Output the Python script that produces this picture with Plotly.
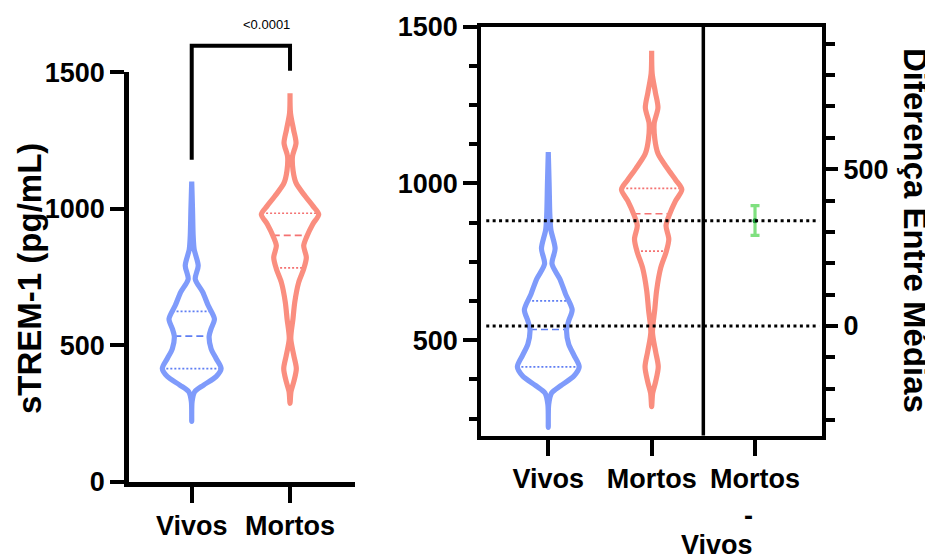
import numpy as np
import plotly.graph_objects as go

# ---------------- data ----------------
groups = ["Vivos", "Mortos"]
diff_label = "Mortos"
diff_label_rest = ["-", "Vivos"]

# violin outline profiles: value (pg/mL) and half-width (category units)
vivos_y = [222, 295, 331, 355, 386, 415, 452, 488, 534, 561, 597, 646, 695, 743, 792, 852, 900, 1000, 1100]
vivos_hw = [0, 0.004, 0.031, 0.121, 0.248, 0.299, 0.248, 0.197, 0.177, 0.197, 0.231, 0.168, 0.112, 0.036,
             0.066, 0.025, 0.015, 0.008, 0]
mortos_y = [288, 331, 367, 415, 464, 525, 597, 658, 731, 780, 822, 865, 901, 944, 980, 1010, 1047, 1095,
            1140, 1192, 1241, 1290, 1350, 1423]
mortos_hw = [0, 0.010, 0.038, 0.064, 0.038, 0.008, 0.030, 0.048, 0.088, 0.139, 0.166, 0.139, 0.173, 0.231,
             0.292, 0.234, 0.153, 0.061, 0.031, 0.025, 0.061, 0.036, 0.005, 0]

# quartiles (Q1, median, Q3)
vivos_q = [415, 534, 625]
mortos_q = [784, 903, 984]

# group means and difference of means (Mortos - Vivos) with 95% CI
means = [545, 881]
diff_mean = 336
diff_ci = [289, 384]

# significance bracket
p_text = "<0.0001"
bracket_top = 1597
bracket_left_end = 1180
bracket_right_end = 1506

left_ticks = [0, 500, 1000, 1500]
right_left_ticks = [500, 1000, 1500]
right_diff_ticks = [0, 500]

# ---------------- styling ----------------
W, H = 933, 559
OFF = 8  # the page body margin shifts the figure by this many pixels
BLUE = "#7f9bfb"
RED = "#fa8e7f"
BLUE_Q = "#5f7ef3"
RED_Q = "#f47272"
GREEN = "#7fe07f"
FONT = "Liberation Sans, Arial, sans-serif"


def px(xp):
    return (xp - OFF) / W


def py(yp):
    return 1 - (yp - OFF) / H


# left panel geometry
L_XDOM = [px(129), px(355.3)]
L_XR = [-0.638, 1.664]
L_YDOM = [py(482), py(72.3)]
L_YR = [0, 1500]
# right panel geometry
R_XDOM = [px(481.3), px(822)]
R_XR = [-0.648, 2.648]
R_YDOM = [py(435.5), py(26.5)]
R_YR = [196, 1500]
R_Y3R = [R_YR[0] - means[0], R_YR[1] - means[0]]


def to_paper(v, rng, dom):
    return dom[0] + (v - rng[0]) / (rng[1] - rng[0]) * (dom[1] - dom[0])


fig = go.Figure()


def add_violin(center, ys, hws, quarts, col, qcol, xa, ya):
    ys = np.asarray(ys, float)
    hws = np.asarray(hws, float)
    # quartile lines
    for i, q in enumerate(quarts):
        w = float(np.interp(q, ys, hws))
        fig.add_trace(go.Scatter(
            x=[center - w, center + w], y=[q, q], mode="lines",
            line=dict(color=qcol, width=1.7, dash="7px,4px" if i == 1 else "2px,2px"),
            xaxis=xa, yaxis=ya, showlegend=False, hoverinfo="skip"))
    xs = np.concatenate([center + hws, (center - hws)[::-1]])
    yy = np.concatenate([ys, ys[::-1]])
    fig.add_trace(go.Scatter(
        x=xs, y=yy, mode="lines", line=dict(color=col, width=5.2, shape="spline", smoothing=0.8),
        xaxis=xa, yaxis=ya, showlegend=False, hoverinfo="skip"))


for xa, ya in (("x", "y"), ("x2", "y2")):
    add_violin(0, vivos_y, vivos_hw, vivos_q, BLUE, BLUE_Q, xa, ya)
    add_violin(1, mortos_y, mortos_hw, mortos_q, RED, RED_Q, xa, ya)

# difference of means with CI
fig.add_trace(go.Scatter(
    x=[2], y=[diff_mean], mode="markers",
    marker=dict(color="#1f9a3a", size=5),
    error_y=dict(type="data", symmetric=False, array=[diff_ci[1] - diff_mean],
                 arrayminus=[diff_mean - diff_ci[0]], color=GREEN, thickness=3.2, width=4.5),
    xaxis="x2", yaxis="y3", showlegend=False, hoverinfo="skip"))

tick_font = dict(family=FONT, size=27, color="black", weight="bold")
axis_common = dict(showgrid=False, zeroline=False, showline=True, linecolor="black", automargin=False,
                   ticks="outside", tickcolor="black", tickfont=tick_font, fixedrange=True)

fig.update_layout(
    template="none",
    width=W, height=H, margin=dict(l=0, r=0, t=0, b=0, autoexpand=False),
    paper_bgcolor="white", plot_bgcolor="white",
    xaxis=dict(domain=L_XDOM, range=L_XR, anchor="y", tickvals=[0, 1], ticktext=groups,
               linewidth=4.5, ticklen=16, tickwidth=4, **axis_common),
    yaxis=dict(domain=L_YDOM, range=L_YR, anchor="x", tickvals=left_ticks,
               linewidth=4.5, ticklen=14, tickwidth=4, **axis_common),
    xaxis2=dict(domain=R_XDOM, range=R_XR, anchor="y2", tickvals=[0, 1, 2],
                ticktext=groups + [diff_label], mirror=True,
                linewidth=4, ticklen=16, tickwidth=4, **axis_common),
    yaxis2=dict(domain=R_YDOM, range=R_YR, anchor="x2", tickvals=right_left_ticks,
                linewidth=4, ticklen=14, tickwidth=4,
                minor=dict(dtick=125, tick0=0, ticks="outside", ticklen=8, tickwidth=3.5, tickcolor="black"),
                **axis_common),
    yaxis3=dict(range=R_Y3R, overlaying="y2", anchor="x2", side="right", tickvals=right_diff_ticks,
                linewidth=4, ticklen=12, tickwidth=4,
                minor=dict(dtick=100, tick0=0, ticks="outside", ticklen=9, tickwidth=3.5, tickcolor="black"),
                **axis_common),
)

# divider between groups and difference column
fig.add_shape(type="line", xref="x2", yref="y2 domain", x0=1.5, x1=1.5, y0=0, y1=1,
              line=dict(color="black", width=3.5))
# dotted lines at the group means
for m in means:
    fig.add_shape(type="line", xref="x2", yref="y2", x0=-0.60, x1=2.62, y0=m, y1=m,
                  line=dict(color="black", width=3, dash="3px,3.4px"))

# significance bracket (converted from data to paper coordinates)
bx0 = to_paper(0, L_XR, L_XDOM)
bx1 = to_paper(1, L_XR, L_XDOM)
by_top = to_paper(bracket_top, L_YR, L_YDOM)
by_l = to_paper(bracket_left_end, L_YR, L_YDOM)
by_r = to_paper(bracket_right_end, L_YR, L_YDOM)
fig.add_shape(type="path", xref="paper", yref="paper",
              path=f"M {bx0} {by_l} L {bx0} {by_top} L {bx1} {by_top} L {bx1} {by_r}",
              line=dict(color="black", width=4))
fig.add_annotation(xref="paper", yref="paper", x=(bx0 + bx1) / 2, y=by_top, yshift=12,
                   yanchor="bottom", text=p_text, showarrow=False,
                   font=dict(family=FONT, size=13, color="black"))

# extra lines of the difference tick label
xdiff = to_paper(2, R_XR, R_XDOM)
fig.add_annotation(xref="paper", yref="paper", x=xdiff, y=py(516), text=diff_label_rest[0],
                   showarrow=False, yanchor="middle", font=tick_font)
fig.add_annotation(xref="paper", yref="paper", x=xdiff, y=py(545), text=diff_label_rest[1],
                   showarrow=False, yanchor="middle", font=tick_font)

# axis titles
fig.add_annotation(xref="paper", yref="paper", x=px(29), y=py(279), text="sTREM-1 (pg/mL)",
                   textangle=-90, showarrow=False, xanchor="center", yanchor="middle",
                   font=dict(family=FONT, size=33, color="black", weight="bold"))
fig.add_annotation(xref="paper", yref="paper", x=px(915), y=py(230), text="Diferença Entre Médias",
                   textangle=90, showarrow=False, xanchor="center", yanchor="middle",
                   font=dict(family=FONT, size=33, color="black", weight="bold"))

fig.write_html("out.html")
